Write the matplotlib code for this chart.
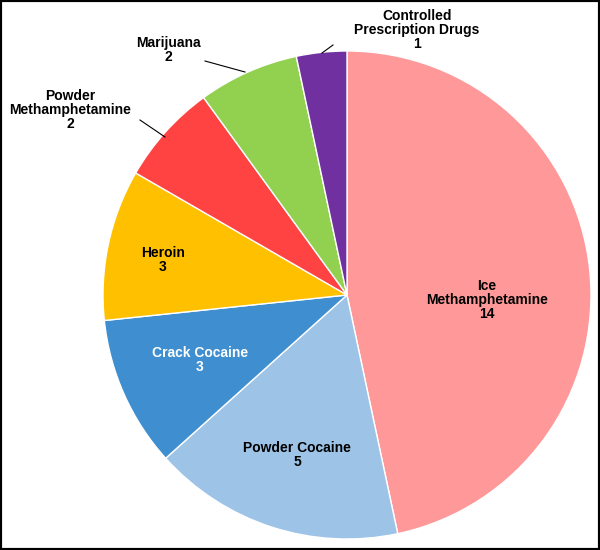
import matplotlib
matplotlib.use("Agg")
import matplotlib.pyplot as plt

categories = ["Ice\nMethamphetamine", "Powder Cocaine", "Crack Cocaine", "Heroin",
              "Powder\nMethamphetamine", "Marijuana", "Controlled\nPrescription Drugs"]
values = [14, 5, 3, 3, 2, 2, 1]
colors = ["#FF9999", "#9DC3E6", "#3E8ED0", "#FFC000", "#FF4343", "#92D050", "#7030A0"]

fig = plt.figure(figsize=(6, 5.5), dpi=100)
ax = fig.add_axes([0, 0, 1, 1])

cx, cy, r = 347, 255, 244
ax.pie(values, colors=colors, startangle=90, counterclock=False,
       center=(cx, cy), radius=r, wedgeprops=dict(edgecolor="white", linewidth=1), frame=True)
ax.set_xlim(0, 600); ax.set_ylim(0, 550); ax.set_aspect("equal"); ax.axis("off")

font = dict(family="Liberation Sans", fontsize=10, fontweight="bold", ha="center", va="center",
            linespacing=1.0)
inside = {0: (487, 250, "black"), 1: (297, 95, "black"), 2: (200, 190, "white"), 3: (163, 290, "black")}
for i, (x, y, c) in inside.items():
    ax.text(x, y, f"{categories[i]}\n{values[i]}", color=c, **font)

outside = {4: (70, 440, (140, 430), (165, 413)),
           5: (168, 500, (205, 489), (245, 478)),
           6: (417, 520, (333, 505), (322, 497))}
for i, (x, y, p1, p2) in outside.items():
    ax.text(x, y, f"{categories[i]}\n{values[i]}", color="black", **font)
    ax.plot([p1[0], p2[0]], [p1[1], p2[1]], color="black", lw=0.8)

fig.patches.append(plt.Rectangle((0, 0), 1, 1, transform=fig.transFigure,
                                 fill=False, edgecolor="black", linewidth=3))
fig.savefig("out.png", dpi=100, facecolor="white")
